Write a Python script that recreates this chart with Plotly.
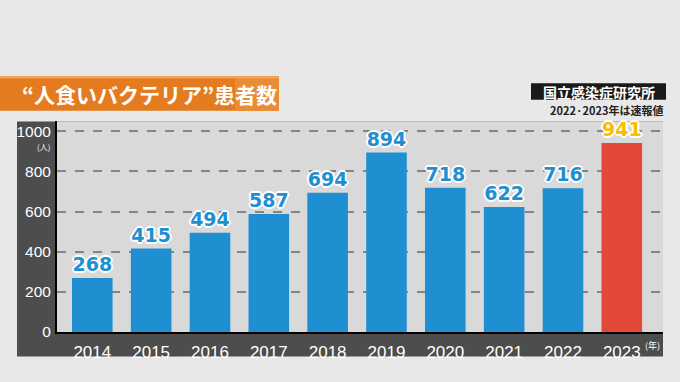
import plotly.graph_objects as go

years = ["2014", "2015", "2016", "2017", "2018", "2019", "2020", "2021", "2022", "2023"]
patients = [268, 415, 494, 587, 694, 894, 718, 622, 716, 941]
y_ticks = [0, 200, 400, 600, 800, 1000]
title_text = "“人食いバクテリア”患者数"
source_text = "国立感染症研究所"
note_text = "2022·2023年は速報値"

W, H = 680, 382


def px(x):
    return x / W


def py(y):
    return 1 - y / H


bar_colors = ["#1f8fd2"] * (len(years) - 1) + ["#e2473a"]
label_colors = ["#1f8fd2"] * (len(years) - 1) + ["#f8bc00"]
outline = "1px 1px 0 #fff, -1px -1px 0 #fff, 1px -1px 0 #fff, -1px 1px 0 #fff, 0 2px 0 #fff, 0 -2px 0 #fff, 2px 0 0 #fff, -2px 0 0 #fff"

fig = go.Figure()
fig.add_trace(go.Bar(
    x=years, y=patients,
    marker=dict(color=bar_colors, line=dict(width=0)),
    text=[str(v) for v in patients],
    textposition="outside",
    textfont=dict(family="DejaVu Sans", size=19, color=label_colors, weight="bold", shadow=outline),
    constraintext="none",
    cliponaxis=False,
    hoverinfo="skip",
))

shapes = []
# dark frame panel
shapes.append(dict(type="rect", xref="paper", yref="paper", x0=px(17), x1=px(663), y0=py(364), y1=py(124),
                   fillcolor="#4d4d4d", line=dict(width=0), layer="below"))
# light plot area
shapes.append(dict(type="rect", xref="paper", yref="paper", x0=px(57), x1=px(663), y0=py(339), y1=py(124),
                   fillcolor="#d9d9d9", line=dict(width=0), layer="below"))
# title banner
shapes.append(dict(type="rect", xref="paper", yref="paper", x0=px(0), x1=px(279), y0=py(113), y1=py(78),
                   fillcolor="#e47b1f", line=dict(width=0), layer="below"))
shapes.append(dict(type="rect", xref="paper", yref="paper", x0=px(235), x1=px(279), y0=py(113), y1=py(78),
                   fillcolor="#e98c36", line=dict(width=0), layer="below"))
shapes.append(dict(type="rect", xref="paper", yref="paper", x0=px(0), x1=px(279), y0=py(80), y1=py(78),
                   fillcolor="#f2a860", line=dict(width=0), layer="below"))
# source box
shapes.append(dict(type="rect", xref="paper", yref="paper", x0=px(531), x1=px(666), y0=py(102), y1=py(85),
                   fillcolor="#1a1a1a", line=dict(width=0), layer="below"))

annotations = [
    dict(text=title_text, x=px(20), y=py(96), xref="paper", yref="paper", xanchor="left", yanchor="middle",
         showarrow=False, font=dict(family="Noto Sans CJK JP", size=21, color="white", weight="bold")),
    dict(text=source_text, x=px(598.5), y=py(93.5), xref="paper", yref="paper", xanchor="center", yanchor="middle",
         showarrow=False, font=dict(family="Noto Sans CJK JP", size=14, color="white", weight="bold")),
    dict(text=note_text, x=px(665), y=py(112), xref="paper", yref="paper", xanchor="right", yanchor="middle",
         showarrow=False, font=dict(family="Noto Sans CJK JP", size=11, color="#222222", weight="bold")),
    dict(text="(人)", x=px(52), y=py(150), xref="paper", yref="paper", xanchor="right", yanchor="middle",
         showarrow=False, font=dict(family="Noto Sans CJK JP", size=8, color="white")),
    dict(text="(年)", x=px(652), y=py(353), xref="paper", yref="paper", xanchor="center", yanchor="middle",
         showarrow=False, font=dict(family="Noto Sans CJK JP", size=9, color="white")),
]

fig.update_layout(
    width=W, height=H,
    margin=dict(l=0, r=0, t=0, b=0),
    paper_bgcolor="#e8e8e8",
    plot_bgcolor="rgba(0,0,0,0)",
    bargap=0.31,
    showlegend=False,
    shapes=shapes,
    annotations=annotations,
    xaxis=dict(
        domain=[px(57), px(663)],
        range=[-0.6, 9.7],
        showline=True, linecolor="black", linewidth=2,
        ticks="outside", ticklen=4, tickcolor="rgba(0,0,0,0)",
        tickfont=dict(family="Liberation Sans", size=17, color="white"),
        showgrid=False, fixedrange=True,
    ),
    yaxis=dict(
        domain=[py(339), py(124)],
        range=[0, 1049],
        tickvals=y_ticks,
        ticktext=[str(v) for v in y_ticks],
        showline=True, linecolor="black", linewidth=2,
        ticks="outside", ticklen=1, tickcolor="rgba(0,0,0,0)",
        tickfont=dict(family="Liberation Sans", size=15.5, color="white"),
        showgrid=True, gridcolor="#858585", gridwidth=1.5, griddash="dash",
        zeroline=False, fixedrange=True,
    ),
)

fig.write_html("out.html", config={"displayModeBar": False},
               post_script="document.body.style.margin='0';document.body.style.overflow='hidden';")
